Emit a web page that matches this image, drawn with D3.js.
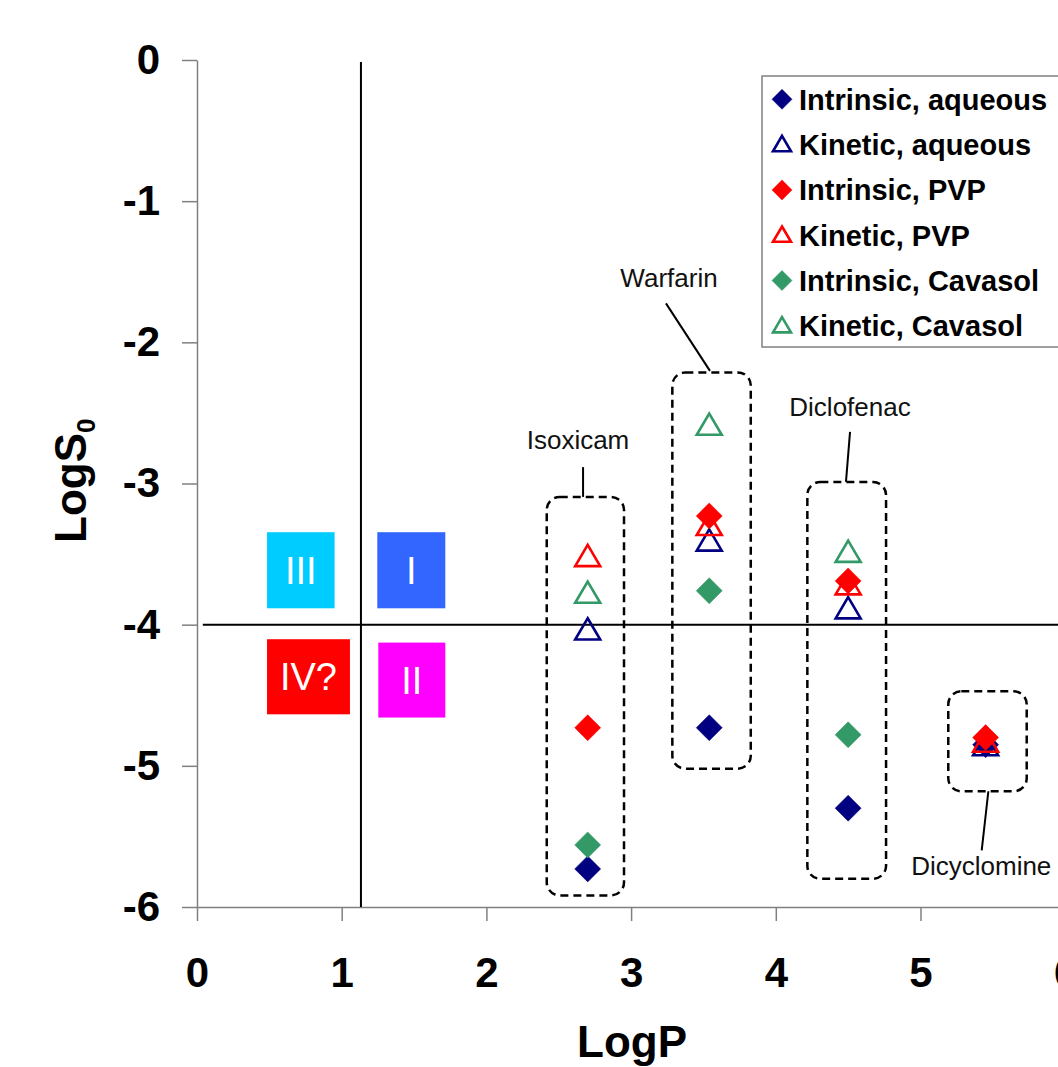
<!DOCTYPE html>
<html>
<head>
<meta charset="utf-8">
<script src="https://cdn.jsdelivr.net/npm/d3@7"></script>
<style>
  html, body { margin: 0; padding: 0; background: #fff; }
  svg { display: block; font-family: "Liberation Sans", Arial, sans-serif; }
</style>
</head>
<body>
<div id="chart"></div>
<script>
// Solubility (LogS0) versus lipophilicity (LogP)

const drugs = ['Isoxicam', 'Warfarin', 'Diclofenac', 'Dicyclomine'];
const logP = [2.7, 3.54, 4.5, 5.45];

const intrinsicAqueous = [-5.73, -4.73, -5.30, -4.85];
const kineticAqueous = [-4.04, -3.41, -3.89, -4.86];
const intrinsicPVP = [-4.73, -3.23, -3.69, -4.80];
const kineticPVP = [-3.52, -3.30, -3.72, -4.835];
const intrinsicCavasol = [-5.56, -3.76, -4.78, null];
const kineticCavasol = [-3.78, -2.59, -3.49, null];

const seriesNames = ['Intrinsic, aqueous', 'Kinetic, aqueous', 'Intrinsic, PVP', 'Kinetic, PVP', 'Intrinsic, Cavasol', 'Kinetic, Cavasol'];
const seriesValues = [intrinsicAqueous, kineticAqueous, intrinsicPVP, kineticPVP, intrinsicCavasol, kineticCavasol];
const seriesColors = ['#000080', '#000080', '#ff0000', '#ff0000', '#339966', '#339966'];
const seriesShapes = ['diamond', 'triangle', 'diamond', 'triangle', 'diamond', 'triangle'];

const xTicks = [0, 1, 2, 3, 4, 5, 6];
const yTicks = [0, -1, -2, -3, -4, -5, -6];

// BCS-like classes, in data units [x0, x1, yTop, yBottom]
const classNames = ['III', 'I', 'IV?', 'II'];
const classColors = ['#00ccff', '#3366ff', '#ff0000', '#ff00ff'];
const classBoxes = [
  [0.484, 0.951, -3.345, -3.884],
  [1.246, 1.716, -3.345, -3.884],
  [0.484, 1.057, -4.103, -4.635],
  [1.253, 1.716, -4.127, -4.658]
];

// dashed groups round each drug [x0, x1, yTop, yBottom]
const groupBoxes = [
  [2.417, 2.951, -3.095, -5.918],
  [3.285, 3.827, -2.213, -5.02],
  [4.218, 4.762, -2.989, -5.80],
  [5.192, 5.734, -4.472, -5.18]
];
// label position [x, y] and leader line [x1, y1, x2, y2]
const labelPos = [[2.633, -2.757], [3.262, -1.607], [4.513, -2.525], [5.42, -5.77]];
const leaders = [
  [2.668, -2.884, 2.668, -3.095],
  [3.241, -1.724, 3.545, -2.202],
  [4.513, -2.634, 4.485, -2.989],
  [5.469, -5.18, 5.423, -5.599]
];

const W = 1058, H = 1067;

const svg = d3.select('#chart').append('svg')
  .attr('width', W)
  .attr('height', H);

const x = d3.scaleLinear().domain([0, 6]).range([197, 1065.2]);
const y = d3.scaleLinear().domain([0, -6]).range([60, 907]);

// Eixos
const yAxis = svg.append('g')
  .attr('transform', `translate(${x(0)},0)`)
  .call(d3.axisLeft(y).tickValues(yTicks).tickSize(15).tickPadding(22).tickSizeOuter(0).tickFormat(d3.format('d')));

const xAxis = svg.append('g')
  .attr('transform', `translate(0,${y(-6)})`)
  .call(d3.axisBottom(x).tickValues(xTicks).tickSize(14).tickPadding(36).tickSizeOuter(0).tickFormat(d3.format('d')));

[xAxis, yAxis].forEach(g => {
  g.select('.domain').attr('stroke', '#808080').attr('stroke-width', 1.5);
  g.selectAll('.tick line').attr('stroke', '#808080').attr('stroke-width', 1.5);
  g.selectAll('.tick text')
    .attr('fill', '#000')
    .style('font-family', '"Liberation Sans", Arial, sans-serif')
    .style('font-size', '42px')
    .style('font-weight', 'bold');
});
yAxis.selectAll('.tick text').text(d => d === 0 ? '0' : '-' + Math.abs(d));

// axis titles
svg.append('text')
  .attr('x', 632)
  .attr('y', 1057)
  .attr('text-anchor', 'middle')
  .style('font-size', '44px')
  .style('font-weight', 'bold')
  .text('LogP');

const yTitle = svg.append('text')
  .attr('transform', 'translate(86,543) rotate(-90)')
  .style('font-size', '44px')
  .style('font-weight', 'bold');
yTitle.append('tspan').text('LogS');
yTitle.append('tspan').attr('dy', 9).style('font-size', '26px').text('0');

// quadrant lines
svg.append('line')
  .attr('x1', x(1.133)).attr('x2', x(1.133))
  .attr('y1', y(-0.015)).attr('y2', y(-6))
  .attr('stroke', '#000').attr('stroke-width', 2);
svg.append('line')
  .attr('x1', x(0.04)).attr('x2', W)
  .attr('y1', y(-4)).attr('y2', y(-4))
  .attr('stroke', '#000').attr('stroke-width', 2);

// class boxes
classBoxes.forEach((b, i) => {
  svg.append('rect')
    .attr('x', x(b[0]))
    .attr('y', y(b[2]))
    .attr('width', x(b[1]) - x(b[0]))
    .attr('height', y(b[3]) - y(b[2]))
    .attr('fill', classColors[i]);
  svg.append('text')
    .attr('x', (x(b[0]) + x(b[1])) / 2)
    .attr('y', (y(b[2]) + y(b[3])) / 2)
    .attr('dy', '0.36em')
    .attr('text-anchor', 'middle')
    .attr('fill', '#fff')
    .style('font-size', '38px')
    .text(classNames[i]);
});

// drug groups
groupBoxes.forEach((b, i) => {
  svg.append('rect')
    .attr('x', x(b[0]))
    .attr('y', y(b[2]))
    .attr('width', x(b[1]) - x(b[0]))
    .attr('height', y(b[3]) - y(b[2]))
    .attr('rx', 13)
    .attr('fill', 'none')
    .attr('stroke', '#000')
    .attr('stroke-width', 2.5)
    .attr('stroke-dasharray', '8,5');
  const l = leaders[i];
  svg.append('line')
    .attr('x1', x(l[0])).attr('y1', y(l[1]))
    .attr('x2', x(l[2])).attr('y2', y(l[3]))
    .attr('stroke', '#000').attr('stroke-width', 2);
  svg.append('text')
    .attr('x', x(labelPos[i][0]))
    .attr('y', y(labelPos[i][1]))
    .attr('text-anchor', 'middle')
    .attr('fill', '#111')
    .style('font-size', '26px')
    .text(drugs[i]);
});

// marker shapes
function markerPath(shape, s) {
  if (shape === 'diamond') {
    return `M0,${-s}L${s},0L0,${s}L${-s},0Z`;
  }
  const h = s * 0.92;
  return `M0,${-h * 1.05}L${s},${h * 0.8}L${-s},${h * 0.8}Z`;
}

function drawMarker(g, shape, color, cx, cy, s) {
  g.append('path')
    .attr('transform', `translate(${cx},${cy})`)
    .attr('d', markerPath(shape, s))
    .attr('fill', shape === 'diamond' ? color : 'none')
    .attr('stroke', color)
    .attr('stroke-width', shape === 'diamond' ? 0.5 : 2.6)
    .attr('stroke-linejoin', 'miter');
}

// points
const pts = svg.append('g');
seriesValues.forEach((vals, si) => {
  vals.forEach((v, di) => {
    if (v === null) return;
    drawMarker(pts, seriesShapes[si], seriesColors[si], x(logP[di]), y(v), seriesShapes[si] === 'diamond' ? 13 : 12.5);
  });
});

// Legenda
const legend = svg.append('g');
legend.append('rect')
  .attr('x', 762).attr('y', 76)
  .attr('width', 320).attr('height', 271)
  .attr('fill', '#fff')
  .attr('stroke', '#808080')
  .attr('stroke-width', 1.5);

seriesNames.forEach((name, i) => {
  const ry = 99.3 + i * 45.3;
  drawMarker(legend, seriesShapes[i], seriesColors[i], 782, ry, seriesShapes[i] === 'diamond' ? 10 : 9);
  legend.append('text')
    .attr('x', 799)
    .attr('y', ry)
    .attr('dy', '0.36em')
    .style('font-size', '29px')
    .style('font-weight', 'bold')
    .text(name);
});
</script>
</body>
</html>
